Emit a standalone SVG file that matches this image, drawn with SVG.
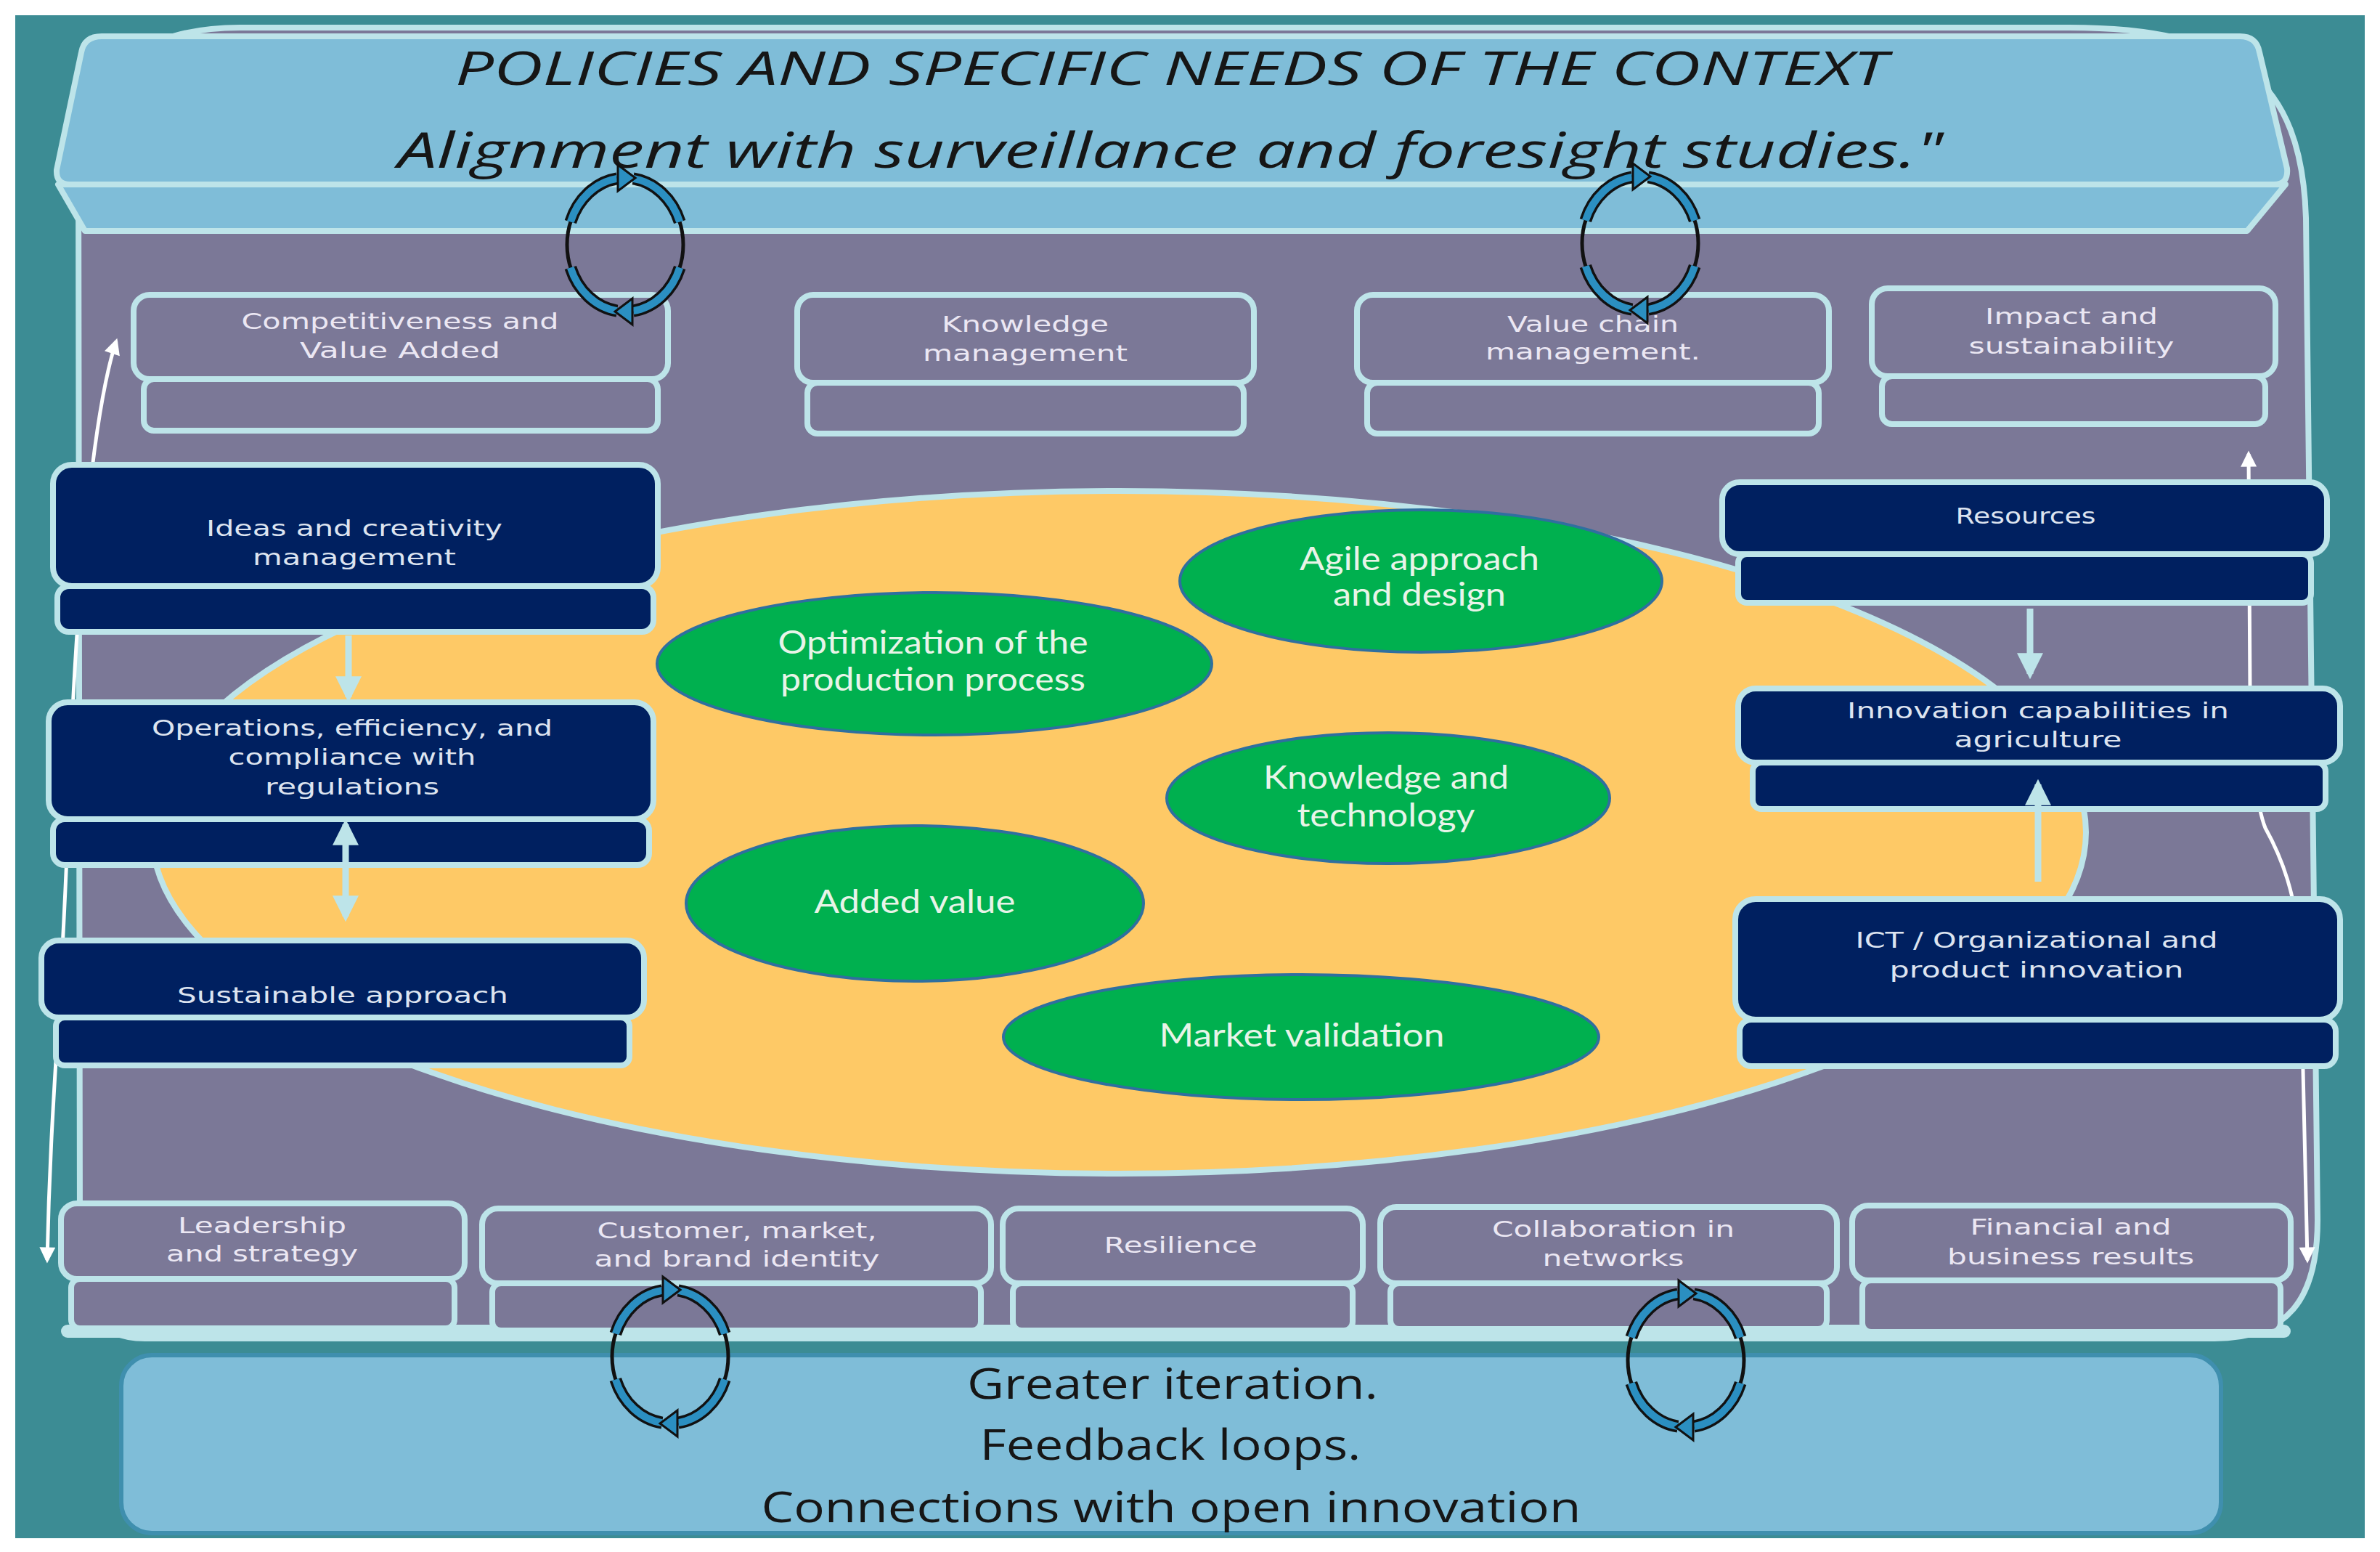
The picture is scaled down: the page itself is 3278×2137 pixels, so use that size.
<svg xmlns="http://www.w3.org/2000/svg" xmlns:xlink="http://www.w3.org/1999/xlink" width="3278" height="2137" viewBox="0 0 3278 2137">
<style>
.face{fill:#7b7897;stroke:#bde4e9;stroke-width:8}
.nface{fill:#002060;stroke:#bde4e9;stroke-width:8}
.lbl{font-family:"DejaVu Sans","Liberation Sans",sans-serif;font-size:31px;fill:#ebe7f3;text-anchor:middle}
.nlbl{font-family:"DejaVu Sans","Liberation Sans",sans-serif;font-size:31px;fill:#dde4f0;text-anchor:middle}
.glbl{font-family:Lato,"Open Sans",sans-serif;font-size:44px;fill:#e8f4e8;text-anchor:middle}
.green{fill:#00b04f;stroke:#2f6f9f;stroke-width:4}
.big{font-family:"Open Sans","Noto Sans",sans-serif;fill:#161616;text-anchor:middle}
.cyan{stroke:#bde4e9;stroke-width:9;fill:none}
.white{stroke:#ffffff;stroke-width:5;fill:none}
</style>
<defs>
<marker id="cy" viewBox="0 0 10 10" refX="8" refY="5" markerWidth="40" markerHeight="36" markerUnits="userSpaceOnUse" orient="auto-start-reverse"><path d="M0,0 L10,5 L0,10 z" fill="#bde4e9"/></marker>
<marker id="wh" viewBox="0 0 10 10" refX="8" refY="5" markerWidth="24" markerHeight="22" markerUnits="userSpaceOnUse" orient="auto-start-reverse"><path d="M0,0 L10,5 L0,10 z" fill="#ffffff"/></marker>
<g id="cyc">
<ellipse rx="80" ry="92" fill="none" stroke="#111" stroke-width="5"/>
<path d="M -75.2,-31.5 A 80 92 0 0 1 -11.1,-91.1 M 11.1,-91.1 A 80 92 0 0 1 75.2,-31.5 M 75.2,31.5 A 80 92 0 0 1 11.1,91.1 M -11.1,91.1 A 80 92 0 0 1 -75.2,31.5" fill="none" stroke="#111" stroke-width="17"/>
<path d="M -75.2,-31.5 A 80 92 0 0 1 -11.1,-91.1 M 11.1,-91.1 A 80 92 0 0 1 75.2,-31.5 M 75.2,31.5 A 80 92 0 0 1 11.1,91.1 M -11.1,91.1 A 80 92 0 0 1 -75.2,31.5" fill="none" stroke="#2b8fc1" stroke-width="10"/>
<polygon points="-10,-110 14,-92 -10,-74" fill="#2b8fc1" stroke="#111" stroke-width="3"/>
<polygon points="10,74 -14,92 10,110" fill="#2b8fc1" stroke="#111" stroke-width="3"/>
</g>
</defs>

<rect x="0" y="0" width="3278" height="2137" fill="#ffffff"/>
<rect x="21" y="21" width="3236" height="2097" fill="#3c8c94"/>

<g id="panel">
<path d="M 330,38 H 2850 C 3080,38 3170,110 3176,300 L 3192,1680 C 3192,1790 3150,1843 3050,1843 H 200 C 130,1843 110,1800 110,1700 L 108,200 C 108,100 200,38 330,38 Z" fill="#7b7897" stroke="#bde4e9" stroke-width="8"/>
</g>

<g id="policies">
<path d="M 80,254 H 3148 L 3095,318 H 117 Z" fill="#7fbdd8" stroke="#bde4e9" stroke-width="8" stroke-linejoin="round"/>
<path d="M 140,50 H 3085 Q 3108,50 3112,72 L 3150,232 Q 3152,254 3132,254 H 96 Q 77,254 78,234 L 112,72 Q 116,50 140,50 Z" fill="#7fbdd8" stroke="#bde4e9" stroke-width="8"/>
<text class="big" x="1613" y="117" font-size="64" font-style="italic" textLength="1972" lengthAdjust="spacingAndGlyphs">POLICIES AND SPECIFIC NEEDS OF THE CONTEXT</text>
<text class="big" x="1612" y="231" font-size="68" font-style="italic" textLength="2128" lengthAdjust="spacingAndGlyphs">Alignment with surveillance and foresight studies."</text>
</g>

<g id="core">
<ellipse cx="1541" cy="1146" rx="1332" ry="470" fill="#fec966" stroke="#bde4e9" stroke-width="8"/>
</g>

<g id="connectors">
<path class="white" d="M 160,470 C 130,560 105,800 95,1100 S 70,1500 65,1735" marker-start="url(#wh)" marker-end="url(#wh)"/>
<path class="white" d="M 3097,625 L 3099,950 C 3102,1050 3108,1110 3120,1140 C 3145,1185 3160,1230 3168,1300 L 3178,1735" marker-start="url(#wh)" marker-end="url(#wh)"/>
</g>

<g id="comp">
<rect class="face" x="198" y="522" width="708" height="71" rx="14"/>
<rect class="face" x="184" y="406" width="736" height="116" rx="22"/>
<text class="lbl" x="551" y="453" textLength="437" lengthAdjust="spacingAndGlyphs">Competitiveness and</text>
<text class="lbl" x="551" y="493" textLength="276" lengthAdjust="spacingAndGlyphs">Value  Added</text>
</g>
<g id="knowledge">
<rect class="face" x="1112" y="527" width="601" height="70" rx="14"/>
<rect class="face" x="1098" y="406" width="629" height="121" rx="22"/>
<text class="lbl" x="1412" y="457" textLength="230" lengthAdjust="spacingAndGlyphs">Knowledge</text>
<text class="lbl" x="1412" y="497" textLength="282" lengthAdjust="spacingAndGlyphs">management</text>
</g>
<g id="valuechain">
<rect class="face" x="1883" y="527" width="622" height="70" rx="14"/>
<rect class="face" x="1869" y="406" width="650" height="121" rx="22"/>
<text class="lbl" x="2194" y="457" textLength="236" lengthAdjust="spacingAndGlyphs">Value chain</text>
<text class="lbl" x="2194" y="495" textLength="296" lengthAdjust="spacingAndGlyphs">management.</text>
</g>
<g id="impact">
<rect class="face" x="2592" y="518" width="528" height="66" rx="14"/>
<rect class="face" x="2578" y="397" width="556" height="121" rx="22"/>
<text class="lbl" x="2853" y="446" textLength="238" lengthAdjust="spacingAndGlyphs">Impact and</text>
<text class="lbl" x="2853" y="487" textLength="283" lengthAdjust="spacingAndGlyphs">sustainability</text>
</g>

<g id="ideas">
<rect class="nface" x="79" y="807" width="821" height="63" rx="16"/>
<rect class="nface" x="73" y="640" width="833" height="167" rx="26"/>
<text class="nlbl" x="488" y="738" textLength="408" lengthAdjust="spacingAndGlyphs">Ideas and creativity</text>
<text class="nlbl" x="488" y="778" textLength="280" lengthAdjust="spacingAndGlyphs">management</text>
</g>
<g id="operations">
<rect class="nface" x="73" y="1128" width="821" height="63" rx="16"/>
<rect class="nface" x="67" y="967" width="833" height="161" rx="26"/>
<text class="nlbl" x="485" y="1013" textLength="552" lengthAdjust="spacingAndGlyphs">Operations, efficiency, and</text>
<text class="nlbl" x="485" y="1053" textLength="341" lengthAdjust="spacingAndGlyphs">compliance with</text>
<text class="nlbl" x="485" y="1094" textLength="240" lengthAdjust="spacingAndGlyphs">regulations</text>
</g>
<g id="sustainable">
<rect class="nface" x="77" y="1401" width="790" height="66" rx="12"/>
<rect class="nface" x="57" y="1295" width="830" height="106" rx="24"/>
<text class="nlbl" x="472" y="1381" textLength="456" lengthAdjust="spacingAndGlyphs">Sustainable approach</text>
</g>

<g id="resources">
<rect class="nface" x="2394" y="763" width="789" height="67" rx="12"/>
<rect class="nface" x="2372" y="664" width="833" height="99" rx="24"/>
<text class="nlbl" x="2790" y="721" textLength="193" lengthAdjust="spacingAndGlyphs">Resources</text>
</g>
<g id="innovation">
<rect class="nface" x="2414" y="1050" width="789" height="64" rx="12"/>
<rect class="nface" x="2394" y="948" width="829" height="102" rx="24"/>
<text class="nlbl" x="2807" y="989" textLength="526" lengthAdjust="spacingAndGlyphs">Innovation capabilities in</text>
<text class="nlbl" x="2807" y="1029" textLength="231" lengthAdjust="spacingAndGlyphs">agriculture</text>
</g>
<g id="ict">
<rect class="nface" x="2396" y="1404" width="821" height="64" rx="16"/>
<rect class="nface" x="2390" y="1238" width="833" height="166" rx="28"/>
<text class="nlbl" x="2805" y="1305" textLength="499" lengthAdjust="spacingAndGlyphs">ICT / Organizational and</text>
<text class="nlbl" x="2805" y="1346" textLength="405" lengthAdjust="spacingAndGlyphs">product innovation</text>
</g>

<g id="agile">
<ellipse class="green" cx="1957" cy="800" rx="332" ry="98"/>
<text class="glbl" x="1955" y="785" textLength="330" lengthAdjust="spacingAndGlyphs">Agile approach</text>
<text class="glbl" x="1955" y="834" textLength="238" lengthAdjust="spacingAndGlyphs">and design</text>
</g>
<g id="optimization">
<ellipse class="green" cx="1287" cy="914" rx="382" ry="98"/>
<text class="glbl" x="1285" y="900" textLength="427" lengthAdjust="spacingAndGlyphs">Optimization of the</text>
<text class="glbl" x="1285" y="951" textLength="420" lengthAdjust="spacingAndGlyphs">production process</text>
</g>
<g id="knowtech">
<ellipse class="green" cx="1912" cy="1099" rx="305" ry="90"/>
<text class="glbl" x="1909" y="1086" textLength="338" lengthAdjust="spacingAndGlyphs">Knowledge and</text>
<text class="glbl" x="1909" y="1138" textLength="245" lengthAdjust="spacingAndGlyphs">technology</text>
</g>
<g id="addedvalue">
<ellipse class="green" cx="1260" cy="1244" rx="315" ry="107"/>
<text class="glbl" x="1260" y="1257" textLength="277" lengthAdjust="spacingAndGlyphs">Added value</text>
</g>
<g id="market">
<ellipse class="green" cx="1792" cy="1428" rx="410" ry="86"/>
<text class="glbl" x="1793" y="1441" textLength="393" lengthAdjust="spacingAndGlyphs">Market validation</text>
</g>

<g id="bottomrow">
<rect x="84" y="1824" width="3071" height="18" rx="9" fill="#bde4e9"/>
</g>
<g id="leadership">
<rect class="face" x="98" y="1761" width="528" height="68" rx="12"/>
<rect class="face" x="84" y="1657" width="556" height="104" rx="22"/>
<text class="lbl" x="361" y="1698" textLength="232" lengthAdjust="spacingAndGlyphs">Leadership</text>
<text class="lbl" x="361" y="1737" textLength="264" lengthAdjust="spacingAndGlyphs">and strategy</text>
</g>
<g id="customer">
<rect class="face" x="678" y="1767" width="673" height="65" rx="12"/>
<rect class="face" x="664" y="1664" width="701" height="103" rx="22"/>
<text class="lbl" x="1015" y="1705" textLength="385" lengthAdjust="spacingAndGlyphs">Customer, market,</text>
<text class="lbl" x="1015" y="1744" textLength="393" lengthAdjust="spacingAndGlyphs">and brand identity</text>
</g>
<g id="resilience">
<rect class="face" x="1395" y="1767" width="468" height="65" rx="12"/>
<rect class="face" x="1381" y="1664" width="496" height="103" rx="22"/>
<text class="lbl" x="1626" y="1725" textLength="211" lengthAdjust="spacingAndGlyphs">Resilience</text>
</g>
<g id="collaboration">
<rect class="face" x="1915" y="1767" width="601" height="63" rx="12"/>
<rect class="face" x="1901" y="1662" width="629" height="105" rx="22"/>
<text class="lbl" x="2222" y="1703" textLength="334" lengthAdjust="spacingAndGlyphs">Collaboration in</text>
<text class="lbl" x="2222" y="1743" textLength="195" lengthAdjust="spacingAndGlyphs">networks</text>
</g>
<g id="financial">
<rect class="face" x="2565" y="1763" width="576" height="71" rx="12"/>
<rect class="face" x="2551" y="1660" width="604" height="103" rx="22"/>
<text class="lbl" x="2852" y="1700" textLength="277" lengthAdjust="spacingAndGlyphs">Financial and</text>
<text class="lbl" x="2852" y="1741" textLength="340" lengthAdjust="spacingAndGlyphs">business results</text>
</g>

<g id="arrows">
<path class="cyan" d="M 480,875 L 480,960" marker-end="url(#cy)"/>
<path class="cyan" d="M 476,1135 L 476,1262" marker-start="url(#cy)" marker-end="url(#cy)"/>
<path class="cyan" d="M 2796,838 L 2796,928" marker-end="url(#cy)"/>
<path class="cyan" d="M 2807,1214 L 2807,1080" marker-end="url(#cy)"/>
</g>

<g id="iteration">
<rect x="167" y="1866" width="2892" height="245" rx="42" fill="#7fbdd8" stroke="#3f8fae" stroke-width="6"/>
<text class="big" x="1615" y="1926" font-size="58" textLength="566" lengthAdjust="spacingAndGlyphs">Greater iteration.</text>
<text class="big" x="1612" y="2010" font-size="58" textLength="525" lengthAdjust="spacingAndGlyphs">Feedback loops.</text>
<text class="big" x="1613" y="2096" font-size="58" textLength="1129" lengthAdjust="spacingAndGlyphs">Connections with open innovation</text>
</g>

<g id="cycles">
<use xlink:href="#cyc" transform="translate(861,337)"/>
<use xlink:href="#cyc" transform="translate(2259,335)"/>
<use xlink:href="#cyc" transform="translate(923,1868)"/>
<use xlink:href="#cyc" transform="translate(2322,1873)"/>
</g>
</svg>
